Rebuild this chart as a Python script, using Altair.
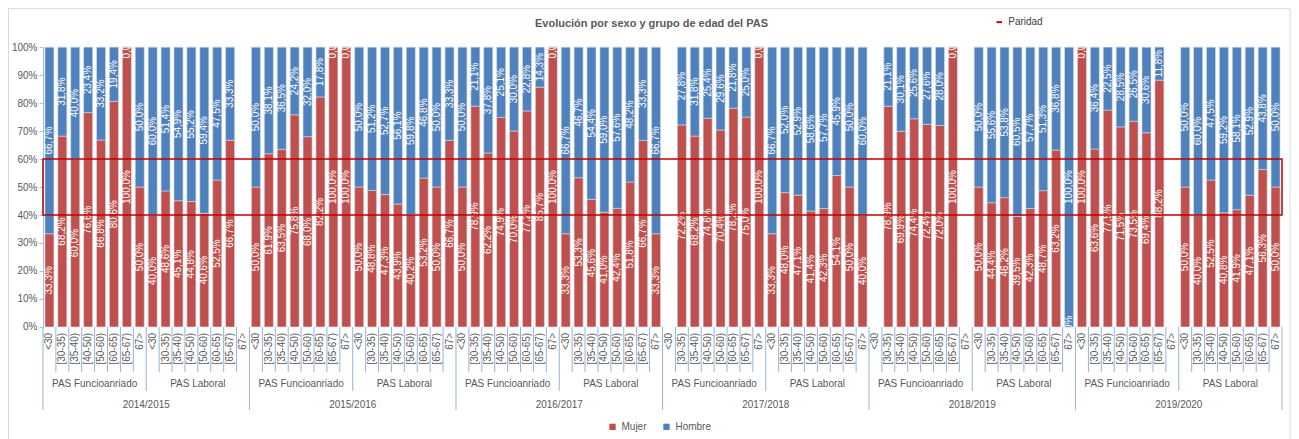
import altair as alt
import pandas as pd

years = ["2014/2015", "2015/2016", "2016/2017", "2017/2018", "2018/2019", "2019/2020"]
groups = ["PAS Funcioanriado", "PAS Laboral"]
ages = ["<30", "[30-35)", "[35-40)", "[40-50)", "[50-60)", "[60-65)", "[65-67)", "67>"]

# Mujer (%) per year -> [Funcionariado, Laboral]; None = no data
mujer = {
    "2014/2015": [[33.3, 68.2, 60.0, 76.6, 66.8, 80.6, 100.0, 50.0],
                  [40.0, 48.6, 45.1, 44.8, 40.6, 52.5, 66.7, None]],
    "2015/2016": [[50.0, 61.9, 63.5, 75.8, 68.0, 82.2, 100.0, 100.0],
                  [50.0, 48.8, 47.3, 43.9, 40.2, 53.2, 50.0, 66.7]],
    "2016/2017": [[50.0, 78.9, 62.2, 74.9, 70.0, 77.2, 85.7, 100.0],
                  [33.3, 53.3, 45.6, 41.0, 42.4, 51.8, 66.7, 33.3]],
    "2017/2018": [[None, 72.2, 68.2, 74.6, 70.4, 78.2, 75.0, 100.0],
                  [33.3, 48.0, 47.1, 41.4, 42.3, 54.1, 50.0, 40.0]],
    "2018/2019": [[None, 78.9, 69.9, 74.4, 72.4, 72.0, 100.0, None],
                  [50.0, 44.4, 46.2, 39.5, 42.3, 48.7, 63.2, 0.0]],
    "2019/2020": [[100.0, 63.6, 77.5, 71.5, 73.5, 69.4, 88.2, None],
                  [50.0, 40.0, 52.5, 40.8, 41.9, 47.1, 56.3, 50.0]],
}
hombre = {
    "2014/2015": [[66.7, 31.8, 40.0, 23.4, 33.2, 19.4, 0.0, 50.0],
                  [60.0, 51.4, 54.9, 55.2, 59.4, 47.5, 33.3, None]],
    "2015/2016": [[50.0, 38.1, 36.5, 24.2, 32.0, 17.8, 0.0, 0.0],
                  [50.0, 51.2, 52.7, 56.1, 59.8, 46.8, 50.0, 33.3]],
    "2016/2017": [[50.0, 21.1, 37.8, 25.1, 30.0, 22.8, 14.3, 0.0],
                  [66.7, 46.7, 54.4, 59.0, 57.6, 48.2, 33.3, 66.7]],
    "2017/2018": [[None, 27.8, 31.8, 25.4, 29.6, 21.8, 25.0, 0.0],
                  [66.7, 52.0, 52.9, 58.6, 57.7, 45.9, 50.0, 60.0]],
    "2018/2019": [[None, 21.1, 30.1, 25.6, 27.6, 28.0, 0.0, None],
                  [50.0, 55.6, 53.8, 60.5, 57.7, 51.3, 36.8, 100.0]],
    "2019/2020": [[0.0, 36.4, 22.5, 28.5, 26.5, 30.6, 11.8, None],
                  [50.0, 60.0, 47.5, 59.2, 58.1, 52.9, 43.8, 50.0]],
}
paridad = [{"serie": "Paridad", "lo": 0.40, "hi": 0.60}]

FONT = "Liberation Sans, Arial"
GRAY = "#595959"
SEP = "#95B3D7"

keys = []
rows = []
seps = []
glabels = []
ylabels = []
for y in years:
    for gi, g in enumerate(groups):
        for ai, a in enumerate(ages):
            k = f"{y}|{g}|{a}"
            keys.append(k)
            level = "age" if ai > 0 else ("group" if gi == 1 else "year")
            seps.append({"key": k, "level": level, "age": a})
            m = mujer[y][gi][ai]
            h = hombre[y][gi][ai]
            if m is not None:
                rows.append({"key": k, "sexo": "Mujer", "value": m, "order": 0})
                rows.append({"key": k, "sexo": "Hombre", "value": h, "order": 1})
            if ai == 4:
                glabels.append({"key": k, "text": g})
            if gi == 1 and ai == 0:
                ylabels.append({"key": k, "text": y})

df = pd.DataFrame(rows)
sep_df = pd.DataFrame(seps)
end_df = pd.DataFrame([{"key": keys[-1]}])
glab_df = pd.DataFrame(glabels)
ylab_df = pd.DataFrame(ylabels)

W, H = 1240, 280
xscale = alt.Scale(domain=keys, paddingInner=0, paddingOuter=0)


def X(pos=None, axis=None):
    kw = {"scale": xscale, "axis": axis}
    if pos is not None:
        kw["bandPosition"] = pos
    return alt.X("key:N", **kw)


yscale = alt.Scale(domain=[0, 1], nice=False)
YAX = alt.Axis(title=None, format=".0%")

stacked = alt.Chart(df).transform_stack(
    stack="value", groupby=["key"], as_=["v0", "v1"], offset="normalize",
    sort=[alt.SortField("order", order="ascending")]
).transform_calculate(
    mid="(datum.v0 + datum.v1) / 2",
    lab="replace(format(datum.value, '.1f'), '.', ',') + '%'"
)

bars = stacked.mark_bar(width=9, stroke="#d0dcec", strokeWidth=0.6).encode(
    x=X(axis=alt.Axis(labels=False, ticks=False, title=None, domain=True,
                      domainColor=SEP, domainWidth=1)),
    y=alt.Y("v0:Q", scale=yscale, axis=YAX),
    y2="v1:Q",
    color=alt.Color("sexo:N",
                    scale=alt.Scale(domain=["Mujer", "Hombre"], range=["#C0504D", "#4F81BD"]),
                    legend=alt.Legend(title=None, orient="none", legendX=565, legendY=375,
                                      direction="horizontal", symbolType="square",
                                      symbolSize=40, symbolStrokeWidth=0,
                                      labelFont=FONT, labelFontSize=10,
                                      labelColor=GRAY, columnPadding=14)),
)

labels = stacked.mark_text(angle=270, color="white", fontSize=10, font=FONT,
                           align="center", baseline="middle", clip=True).encode(
    x=X(),
    y=alt.Y("mid:Q", scale=yscale, axis=YAX),
    text="lab:N",
)

par = alt.Chart(pd.DataFrame(paridad)).mark_rect(fillOpacity=0, strokeWidth=1.5).encode(
    x=alt.value(0), x2=alt.value(W),
    y=alt.Y("lo:Q", scale=yscale, axis=YAX), y2="hi:Q",
    stroke=alt.Stroke("serie:N", scale=alt.Scale(domain=["Paridad"], range=["#C00000"]),
                      legend=alt.Legend(title=None, orient="none", legendX=952, legendY=-30,
                                        symbolType="stroke", symbolStrokeWidth=2,
                                        symbolSize=30, labelFont=FONT, labelFontSize=10,
                                        labelColor="#404040")),
)

age_txt = alt.Chart(sep_df).mark_text(angle=270, align="right", baseline="middle",
                                      fontSize=10, font=FONT, color=GRAY).encode(
    x=X(), y=alt.value(H + 6), text="age:N")

sep_age = alt.Chart(sep_df).transform_filter("datum.level == 'age'").mark_rule(
    color=SEP, strokeWidth=1).encode(x=X(0), y=alt.value(H), y2=alt.value(H + 45))
sep_grp = alt.Chart(sep_df).transform_filter("datum.level == 'group'").mark_rule(
    color=SEP, strokeWidth=1).encode(x=X(0), y=alt.value(H), y2=alt.value(H + 64))
sep_year = alt.Chart(sep_df).transform_filter("datum.level == 'year'").mark_rule(
    color=SEP, strokeWidth=1).encode(x=X(0), y=alt.value(H), y2=alt.value(H + 83))
sep_end = alt.Chart(end_df).mark_rule(color=SEP, strokeWidth=1).encode(
    x=X(1), y=alt.value(H), y2=alt.value(H + 83))

grp_txt = alt.Chart(glab_df).mark_text(fontSize=10, font=FONT, color=GRAY,
                                       baseline="middle").encode(
    x=X(0), y=alt.value(H + 57), text="text:N")
year_txt = alt.Chart(ylab_df).mark_text(fontSize=10, font=FONT, color=GRAY,
                                        baseline="middle").encode(
    x=X(0), y=alt.value(H + 78), text="text:N")

frame = alt.Chart(pd.DataFrame([{"f": 1}])).mark_rect(
    fillOpacity=0, stroke="#D9D9D9", strokeWidth=1).encode(
    x=alt.value(-34.5), x2=alt.value(W + 8), y=alt.value(-38.5), y2=alt.value(H + 140))

chart = alt.layer(
    frame, bars, labels, par, sep_age, sep_grp, sep_year, sep_end, age_txt, grp_txt, year_txt
).properties(
    width=W, height=H,
    title=alt.TitleParams("Evolución por sexo y grupo de edad del PAS", fontSize=11,
                          font=FONT, fontWeight="bold", color=GRAY, anchor="middle",
                          offset=-21, dx=-11),
    autosize=alt.AutoSizeParams(type="none"),
    padding={"left": 35, "top": 39, "right": 9, "bottom": 112},
).configure_view(stroke=None).configure_axisY(
    tickCount=10, labelOverlap=False, grid=False, domainColor="#A6BDDB",
    tickColor="#A6BDDB", tickSize=4, labelColor=GRAY, labelFont=FONT,
    labelFontSize=10, labelPadding=2, labelFlush=False,
)

chart.save("out.html", embed_options={"renderer": "svg", "actions": False})
